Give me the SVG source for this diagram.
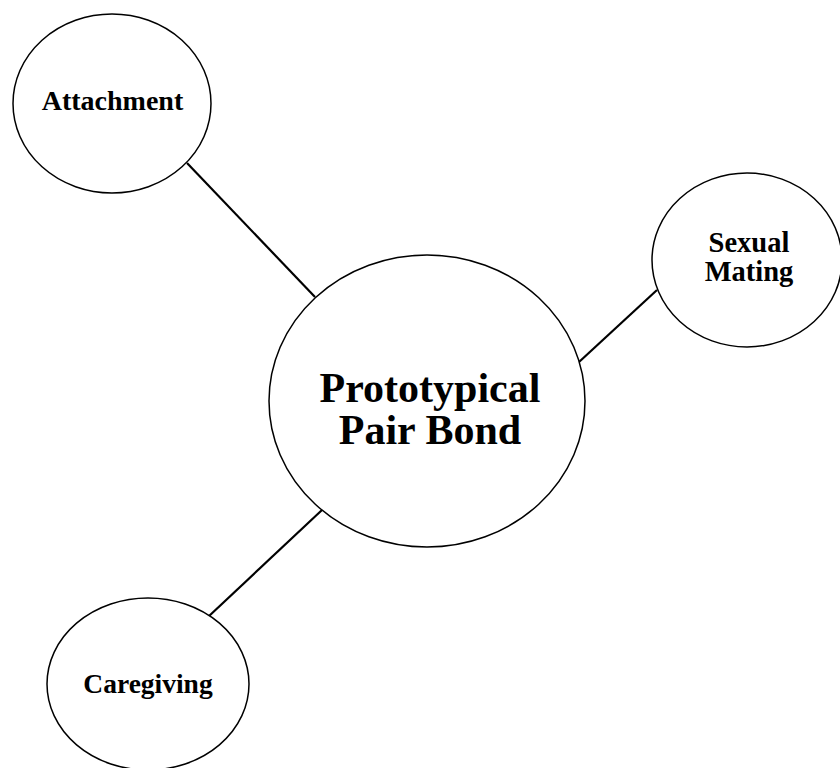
<svg xmlns="http://www.w3.org/2000/svg" width="840" height="768" viewBox="0 0 840 768">
<style>
.node{fill:#fff;stroke:#000;stroke-width:1.5}
.edge{stroke:#000;stroke-width:2.2;fill:none}
.lbl{font-family:"Liberation Serif","Times New Roman",serif;font-weight:bold;fill:#000;text-anchor:middle}
</style>
<rect width="840" height="768" fill="#fff"/>
<g id="connectors">
<line class="edge" x1="187" y1="163" x2="315" y2="297"/>
<line class="edge" x1="657" y1="290" x2="579" y2="362"/>
<line class="edge" x1="322" y1="510" x2="208" y2="617"/>
</g>
<g id="attachment">
<ellipse class="node" cx="112" cy="103.5" rx="99" ry="89.5"/>
<text class="lbl" x="112.5" y="110" font-size="28">Attachment</text>
</g>
<g id="sexual-mating">
<ellipse class="node" cx="747" cy="260" rx="95" ry="87"/>
<text class="lbl" x="749" y="252" font-size="28.5">Sexual</text>
<text class="lbl" x="749" y="281" font-size="28.5">Mating</text>
</g>
<g id="pair-bond">
<ellipse class="node" cx="427" cy="401" rx="158" ry="146"/>
<text class="lbl" x="430" y="402" font-size="42">Prototypical</text>
<text class="lbl" x="430" y="444" font-size="42">Pair Bond</text>
</g>
<g id="caregiving">
<ellipse class="node" cx="148" cy="684" rx="101" ry="86"/>
<text class="lbl" x="148" y="693" font-size="27.5">Caregiving</text>
</g>
</svg>
